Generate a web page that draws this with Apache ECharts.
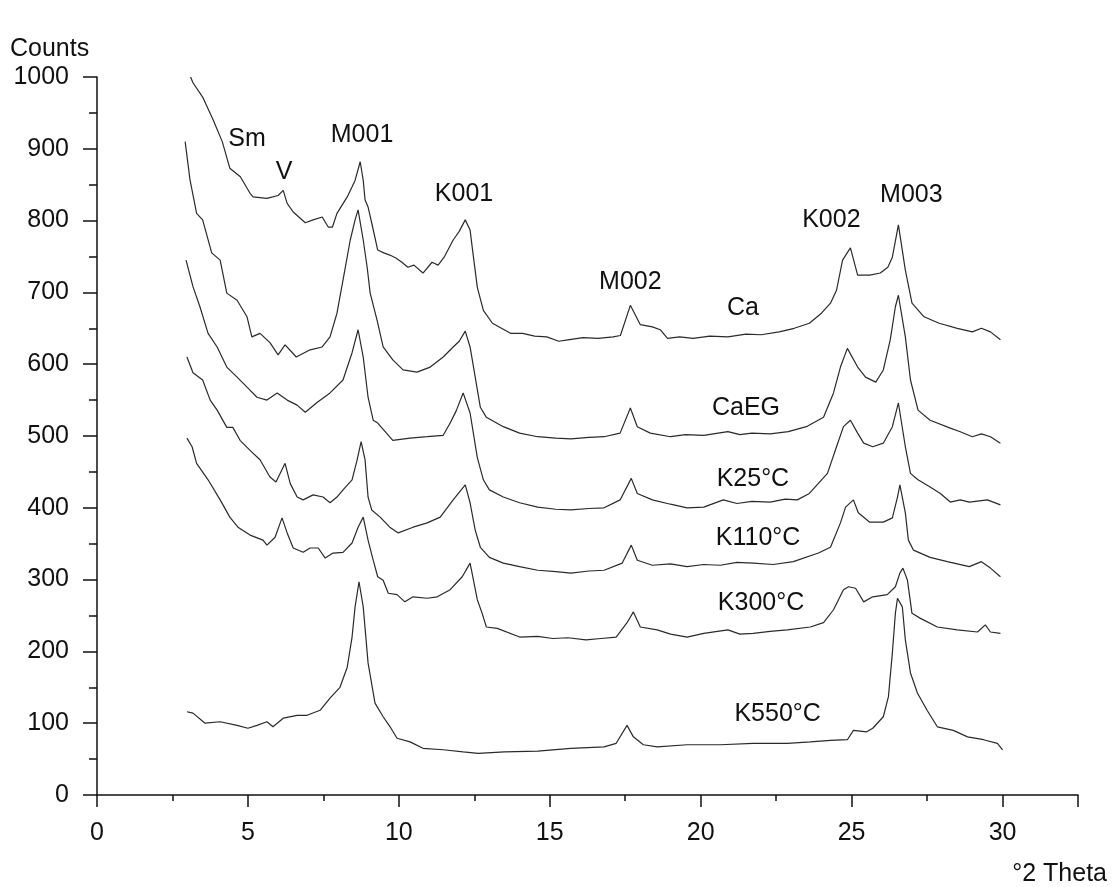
<!DOCTYPE html>
<html>
<head>
<meta charset="utf-8">
<title>XRD patterns</title>
<script src="https://cdn.jsdelivr.net/npm/echarts@6/dist/echarts.min.js"></script>
<style>
  html, body { margin: 0; padding: 0; background: #fff; }
  #chart { width: 1112px; height: 887px; }
</style>
</head>
<body>
<div id="chart"></div>
<script>
// 2theta / counts pairs
const ca = [[3.1,1000],[3.18,992],[3.5,972],[3.85,940],[4.15,910],[4.4,873],[4.75,861],[5.07,838],[5.17,833],[5.63,831],[6.0,835],[6.17,842],[6.3,824],[6.5,812],[6.9,797],[7.16,801],[7.46,805],[7.66,791],[7.8,791],[7.95,810],[8.29,833],[8.55,856],[8.72,882],[8.82,856],[8.88,829],[8.98,819],[9.1,797],[9.3,759],[9.5,755],[9.7,752],[9.9,748],[10.1,742],[10.3,735],[10.5,738],[10.8,727],[11.1,742],[11.3,738],[11.5,749],[11.8,773],[12.0,785],[12.2,801],[12.36,787],[12.43,763],[12.6,707],[12.8,675],[13.1,657],[13.7,643],[14.1,643],[14.5,639],[14.9,638],[15.3,632],[15.6,634],[16.1,637],[16.6,636],[17.1,638],[17.34,640],[17.67,682],[18.0,655],[18.4,652],[18.66,648],[18.9,636],[19.3,638],[19.75,636],[20.3,639],[20.9,638],[21.5,642],[22.0,641],[22.6,645],[23.1,650],[23.6,657],[24.0,671],[24.3,685],[24.5,703],[24.7,745],[24.96,762],[25.2,724],[25.6,724],[25.95,727],[26.2,735],[26.35,749],[26.55,794],[26.78,731],[27.0,685],[27.4,666],[27.9,657],[28.5,650],[29.0,645],[29.3,650],[29.6,645],[29.93,634]];

const caEG = [[2.92,910],[3.08,857],[3.3,810],[3.5,801],[3.8,755],[4.08,745],[4.3,699],[4.64,689],[4.97,666],[5.13,638],[5.4,643],[5.73,630],[6.0,613],[6.23,627],[6.45,617],[6.6,610],[7.06,620],[7.46,624],[7.72,638],[7.95,671],[8.15,717],[8.39,773],[8.55,801],[8.65,815],[8.82,773],[8.95,735],[9.05,699],[9.28,661],[9.48,624],[9.8,606],[10.14,592],[10.6,589],[11.04,596],[11.47,610],[11.8,624],[12.0,632],[12.2,646],[12.36,624],[12.53,582],[12.7,540],[12.9,526],[13.46,513],[14.0,504],[14.6,499],[15.2,497],[15.7,496],[16.3,498],[16.8,499],[17.33,504],[17.67,539],[17.9,513],[18.33,504],[19.0,499],[19.5,502],[20.1,501],[20.9,506],[21.3,502],[21.7,504],[22.3,503],[22.9,506],[23.5,513],[24.07,526],[24.4,560],[24.63,596],[24.86,622],[25.2,596],[25.46,582],[25.8,575],[26.05,592],[26.28,634],[26.45,680],[26.55,696],[26.78,638],[26.95,578],[27.2,536],[27.6,522],[28.27,511],[28.6,506],[29.0,499],[29.3,503],[29.6,499],[29.93,490]];

const k25 = [[2.95,745],[3.18,708],[3.41,680],[3.68,643],[3.98,624],[4.3,596],[4.64,582],[4.97,568],[5.3,554],[5.63,550],[5.97,560],[6.3,550],[6.63,543],[6.9,533],[7.3,547],[7.72,560],[8.15,578],[8.45,616],[8.65,648],[8.82,610],[8.98,554],[9.15,522],[9.3,518],[9.8,494],[10.37,497],[10.94,499],[11.47,501],[11.7,518],[11.9,535],[12.13,560],[12.36,532],[12.6,470],[12.8,439],[13.0,425],[13.46,415],[14.0,407],[14.6,401],[15.2,398],[15.7,397],[16.3,399],[16.8,400],[17.33,411],[17.7,441],[17.9,420],[18.4,411],[19.0,405],[19.55,400],[20.1,401],[20.75,411],[21.2,406],[21.7,409],[22.3,408],[22.8,412],[23.2,411],[23.6,420],[24.2,448],[24.5,485],[24.73,513],[24.96,522],[25.2,504],[25.4,490],[25.7,485],[26.05,490],[26.35,513],[26.55,546],[26.78,485],[26.95,448],[27.2,439],[27.6,429],[27.94,420],[28.27,408],[28.6,411],[28.9,408],[29.5,411],[29.93,404]];

const k110 = [[2.98,610],[3.18,588],[3.5,578],[3.75,550],[3.98,536],[4.3,512],[4.5,512],[4.74,494],[5.07,480],[5.4,467],[5.73,443],[5.93,436],[6.23,462],[6.4,434],[6.63,415],[6.83,411],[7.16,418],[7.49,415],[7.72,407],[7.95,415],[8.15,425],[8.45,439],[8.62,467],[8.75,492],[8.88,467],[8.98,415],[9.1,397],[9.38,387],[9.7,373],[9.98,365],[10.47,373],[10.94,379],[11.37,387],[11.8,411],[12.2,432],[12.36,407],[12.53,369],[12.6,359],[12.7,345],[13.0,331],[13.46,323],[14.0,318],[14.6,313],[15.2,311],[15.7,309],[16.3,312],[16.8,313],[17.4,323],[17.7,348],[17.9,327],[18.4,320],[19.0,322],[19.55,318],[20.1,321],[20.65,320],[21.2,324],[21.74,323],[22.4,321],[23.07,325],[23.9,337],[24.3,345],[24.63,379],[24.8,401],[25.06,411],[25.22,393],[25.6,380],[26.05,380],[26.35,386],[26.52,415],[26.6,432],[26.78,393],[26.88,355],[27.05,341],[27.6,331],[28.17,325],[28.9,318],[29.3,325],[29.6,316],[29.93,304]];

const k300 = [[2.98,497],[3.15,485],[3.3,462],[3.68,439],[4.08,411],[4.4,387],[4.67,373],[5.07,362],[5.5,355],[5.63,348],[5.9,359],[6.13,386],[6.3,365],[6.5,344],[6.83,338],[7.06,344],[7.33,344],[7.56,330],[7.82,337],[8.15,338],[8.45,351],[8.65,373],[8.82,387],[8.98,355],[9.15,327],[9.3,304],[9.48,299],[9.65,281],[9.94,279],[10.2,269],[10.47,276],[10.94,274],[11.27,276],[11.7,286],[12.1,304],[12.36,323],[12.6,272],[12.76,253],[12.9,234],[13.26,232],[14.0,220],[14.6,221],[15.1,218],[15.6,219],[16.2,216],[16.7,218],[17.2,220],[17.56,240],[17.77,255],[18.0,234],[18.56,230],[19.0,224],[19.55,220],[20.1,225],[20.9,230],[21.3,224],[21.74,225],[22.3,228],[22.87,230],[23.63,234],[24.07,240],[24.4,258],[24.73,286],[24.9,290],[25.13,288],[25.4,269],[25.7,276],[26.18,279],[26.45,290],[26.6,309],[26.7,316],[26.85,299],[27.0,253],[27.28,246],[27.84,234],[28.5,230],[29.17,227],[29.43,237],[29.6,227],[29.93,225]];

const k550 = [[2.98,116],[3.18,114],[3.58,100],[4.08,102],[4.64,97],[5.0,93],[5.3,97],[5.63,102],[5.83,95],[6.17,107],[6.63,111],[6.96,111],[7.39,118],[7.72,135],[8.05,150],[8.29,178],[8.45,220],[8.55,262],[8.68,297],[8.82,262],[8.98,184],[9.21,128],[9.48,109],[9.71,95],[9.94,79],[10.37,74],[10.8,65],[11.47,63],[12.13,60],[12.63,58],[13.5,60],[14.6,61],[15.7,65],[16.8,67],[17.2,72],[17.56,97],[17.77,81],[18.1,70],[18.56,67],[19.55,70],[20.65,70],[21.74,72],[22.87,72],[23.63,74],[24.3,76],[24.86,77],[25.06,90],[25.5,88],[25.7,93],[26.05,109],[26.22,137],[26.35,198],[26.45,253],[26.52,274],[26.68,262],[26.78,216],[26.95,170],[27.18,142],[27.5,118],[27.84,95],[28.37,90],[28.84,81],[29.37,77],[29.83,72],[30.0,63]];

// peak and sample labels, placed in data units
const noteText = ['Sm', 'V', 'M001', 'K001', 'M002', 'K002', 'M003', 'Ca', 'CaEG', 'K25°C', 'K110°C', 'K300°C', 'K550°C'];
const noteX = [4.97, 6.2, 8.78, 12.16, 17.67, 24.33, 26.98, 21.4, 21.5, 21.73, 21.9, 22.0, 22.55];
const noteY = [914, 868, 919, 837, 714, 801, 836, 678, 539, 440, 358, 267, 113];

const xTicks = [0, 5, 10, 15, 20, 25, 30];

const FONT = '"Liberation Sans", Arial, sans-serif';
const INK = '#111';

const traces = [ca, caEG, k25, k110, k300, k550];

const chart = echarts.init(document.getElementById('chart'));

const lineSeries = traces.map(d => ({
  type: 'line',
  data: d,
  showSymbol: false,
  silent: true,
  lineStyle: { color: '#2a2a2a', width: 1.2 }
}));

chart.setOption({
  animation: false,
  backgroundColor: '#fff',
  grid: { left: 97, right: 34, top: 77, bottom: 92 },
  xAxis: {
    type: 'value',
    min: 0,
    max: 32.5,
    interval: 5,
    axisLine: { lineStyle: { color: INK, width: 1.5 } },
    axisTick: { length: 12, lineStyle: { color: INK, width: 1.5 } },
    minorTick: { show: true, splitNumber: 2, length: 6, lineStyle: { color: INK, width: 1.5 } },
    splitLine: { show: false },
    axisLabel: {
      margin: 26,
      color: INK,
      fontSize: 25,
      fontFamily: FONT,
      formatter: v => (xTicks.indexOf(v) >= 0 ? String(v) : '')
    }
  },
  yAxis: {
    type: 'value',
    min: 0,
    max: 1000,
    interval: 100,
    axisLine: { show: true, lineStyle: { color: INK, width: 1.5 } },
    axisTick: { show: true, length: 14, lineStyle: { color: INK, width: 1.5 } },
    minorTick: { show: true, splitNumber: 2, length: 8, lineStyle: { color: INK, width: 1.5 } },
    splitLine: { show: false },
    axisLabel: { margin: 28, color: INK, fontSize: 25, fontFamily: FONT, formatter: v => String(v) }
  },
  graphic: [
    { type: 'text', left: 10, top: 37, style: { text: 'Counts', fill: INK, font: '25px ' + FONT } },
    { type: 'text', right: 5, top: 862, style: { text: '°2 Theta', fill: INK, font: '25px ' + FONT } }
  ],
  series: lineSeries.concat([{
    type: 'scatter',
    silent: true,
    symbolSize: 0,
    itemStyle: { color: INK, opacity: 1 },
    data: noteText.map((t, i) => ({ value: [noteX[i], noteY[i]], name: t })),
    label: {
      show: true,
      position: [0, 0],
      align: 'center',
      verticalAlign: 'middle',
      formatter: p => p.name,
      color: INK,
      opacity: 1,
      fontSize: 25,
      fontFamily: FONT
    }
  }])
});
</script>
</body>
</html>
